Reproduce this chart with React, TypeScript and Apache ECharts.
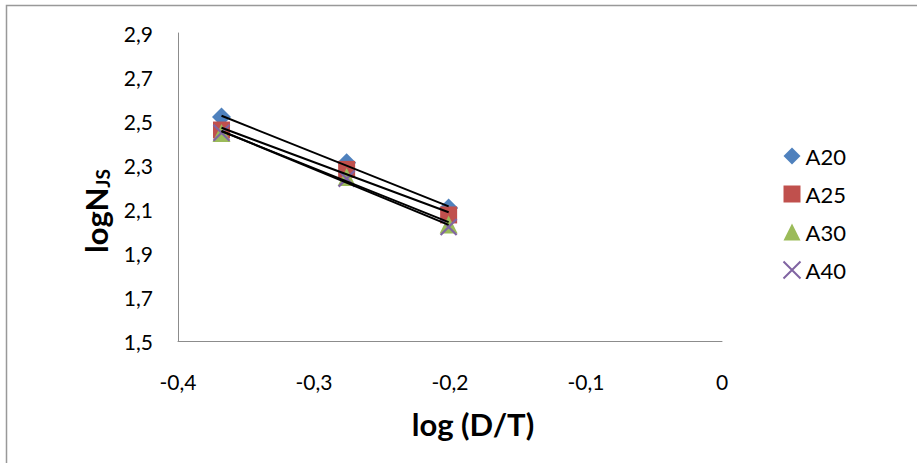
import React, { useEffect, useRef } from "react";
import * as echarts from "echarts";

const xValues = [-0.368, -0.276, -0.201];
const seriesNames = ["A20", "A25", "A30", "A40"];
const a20 = [2.518, 2.31, 2.105];
const a25 = [2.459, 2.28, 2.073];
const a30 = [2.445, 2.245, 2.03];
const a40 = [2.447, 2.238, 2.018];
const yTicks = [1.5, 1.7, 1.9, 2.1, 2.3, 2.5, 2.7, 2.9];
const xTicks = [-0.4, -0.3, -0.2, -0.1, 0];

const colors = ["#4F81BD", "#C0504D", "#9BBB59", "#8064A2"];
const symbols = ["diamond", "rect", "triangle", "path://M0 0L10 10M10 0L0 10"];
const symbolSizes = [19, 17, 18, 16];

function fit(xs: number[], ys: number[]) {
  const n = xs.length;
  const mx = xs.reduce((a, b) => a + b, 0) / n;
  const my = ys.reduce((a, b) => a + b, 0) / n;
  let sxy = 0;
  let sxx = 0;
  for (let i = 0; i < n; i++) {
    sxy += (xs[i] - mx) * (ys[i] - my);
    sxx += (xs[i] - mx) * (xs[i] - mx);
  }
  const b = sxy / sxx;
  const a = my - b * mx;
  const x0 = Math.min(...xs);
  const x1 = Math.max(...xs);
  return [
    [x0, a + b * x0],
    [x1, a + b * x1],
  ];
}

const fmt = (v: number) => {
  const r = Math.round(v * 10) / 10;
  return r === 0 ? "0" : r.toFixed(1).replace(".", ",");
};

export default function App() {
  const ref = useRef<HTMLDivElement>(null);
  useEffect(() => {
    if (!ref.current) return;
    const chart = echarts.init(ref.current, undefined, { renderer: "svg" });
    const allY = [a20, a25, a30, a40];
    const scatter = allY.map((ys, i) => ({
      name: seriesNames[i],
      type: "scatter",
      symbol: symbols[i],
      symbolSize: symbolSizes[i],
      z: 2 + i,
      itemStyle:
        i === 3
          ? { color: "none", borderColor: colors[i], borderWidth: 2.2, opacity: 1 }
          : { color: colors[i], opacity: 1 },
      emphasis: { disabled: true },
      data: xValues.map((x, j) => [x, ys[j]]),
    }));
    const trends = allY.map((ys, i) => ({
      name: seriesNames[i] + " trend",
      type: "line",
      showSymbol: false,
      symbol: "none",
      z: 10,
      lineStyle: { color: "#000", width: 2 },
      data: fit(xValues, ys),
    }));
    const font = "Lato, 'Open Sans', sans-serif";
    chart.setOption({
      animation: false,
      textStyle: { fontFamily: font },
      grid: { left: 178, top: 33, right: 195, bottom: 122 },
      xAxis: {
        type: "value",
        min: -0.4,
        max: 0,
        interval: 0.1,
        axisLine: { onZero: false, lineStyle: { color: "#8c8c8c", width: 1 } },
        axisTick: { show: false },
        splitLine: { show: false },
        axisLabel: {
          color: "#000",
          fontSize: 21,
          fontFamily: font,
          margin: 30,
          formatter: (v: number) => fmt(v),
        },
      },
      yAxis: {
        type: "value",
        min: 1.5,
        max: 2.9,
        axisLine: { show: true, onZero: false, lineStyle: { color: "#8c8c8c", width: 1 } },
        axisTick: { show: false },
        splitLine: { show: false },
        axisLabel: {
          color: "#000",
          fontSize: 21,
          fontFamily: font,
          margin: 25,
          customValues: yTicks,
          formatter: (v: number) => fmt(v),
        },
      },
      legend: {
        orient: "vertical",
        left: 776,
        top: 140,
        itemGap: 16,
        itemWidth: 17,
        itemHeight: 17,
        data: seriesNames,
        textStyle: { color: "#000", fontSize: 22, fontFamily: font },
      },
      graphic: [
        {
          type: "rect",
          silent: true,
          shape: { x: 6.5, y: 5.5, width: 2000, height: 2000 },
          style: { fill: "none", stroke: "#999", lineWidth: 1.5 },
        },
        {
          type: "text",
          x: 96,
          y: 211,
          rotation: Math.PI / 2,
          style: {
            text: "{a|logN}{b|JS}",
            align: "center",
            verticalAlign: "middle",
            rich: {
              a: { fontSize: 31, fontWeight: "bold", fontFamily: font, fill: "#000", color: "#000" },
              b: {
                fontSize: 19,
                fontWeight: "bold",
                fontFamily: font,
                fill: "#000",
                color: "#000",
                verticalAlign: "bottom",
                padding: [10, 0, 0, 0],
              },
            },
          },
        },
        {
          type: "text",
          x: 473,
          y: 424,
          style: {
            text: "log (D/T)",
            align: "center",
            verticalAlign: "middle",
            fontSize: 31,
            fontWeight: "bold",
            fontFamily: font,
            fill: "#000",
          },
        },
      ],
      series: [...scatter, ...trends],
    });
    return () => chart.dispose();
  }, []);
  return (
    <div
      ref={ref}
      style={{ position: "fixed", left: 0, top: 0, width: 917, height: 463, background: "#fff" }}
    />
  );
}
